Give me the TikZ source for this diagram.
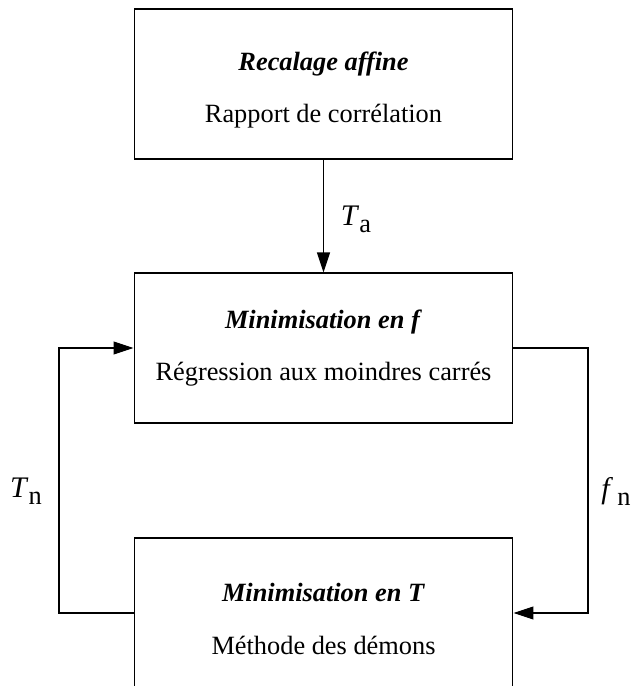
\documentclass[tikz,border=0pt]{standalone}
\usepackage{fontspec}
\setmainfont{Liberation Serif}
\usetikzlibrary{arrows.meta}
\newcommand{\sublab}[2]{\textit{#1}\raisebox{-4pt}{\fontsize{15}{18}\selectfont #2}}
\newcommand{\upstrut}{\rule{0pt}{17.5pt}}

\begin{document}
\begin{tikzpicture}[x=0.02cm, y=-0.02cm,
    box/.style={draw, line width=0.6pt, minimum width=7.58cm, minimum height=3cm,
        align=center, font=\fontsize{15}{18}\selectfont},
    lab/.style={font=\fontsize{17}{20}\selectfont},
    flow/.style={line width=0.6pt, -{Triangle[length=0.4cm, width=0.26cm]}}]
    \clip (0,0) rectangle (631,686);
    % Below nodes are the boxes.
        \node[box] (recal) at (323.5,84) {\upstrut\textbf{\textit{Recalage affine}}\\[12pt]Rapport de corrélation};
        \node[box] (minf) at (323.5,348) {\textbf{\textit{Minimisation en f}}\\[12pt]Régression aux moindres carrés};
        \node[box] (mint) at (323.5,613) {\upstrut\textbf{\textit{Minimisation en T}}\\[12pt]Méthode des démons};
    % Corners of the two loops.
        \coordinate (rtop) at (588,348);
        \coordinate (rbot) at (588,613);
        \coordinate (ltop) at (59,348);
        \coordinate (lbot) at (59,613);
    % This draws the arrows.
        \draw[flow] (recal) -- (minf);
        \draw[flow] (minf.east) -- (rtop) -- (rbot) -- (mint.east);
        \draw[flow] (mint.west) -- (lbot) -- (ltop) -- (minf.west);
    % Below nodes are the labels.
        \node[lab] (ta) at (356,219) {\sublab{T}{a}};
        \node[lab] (tn) at (26,491) {\sublab{T}{n}};
        \node[lab] (fn) at (616,491) {\sublab{f}{\,n}};
\end{tikzpicture}
\end{document}
